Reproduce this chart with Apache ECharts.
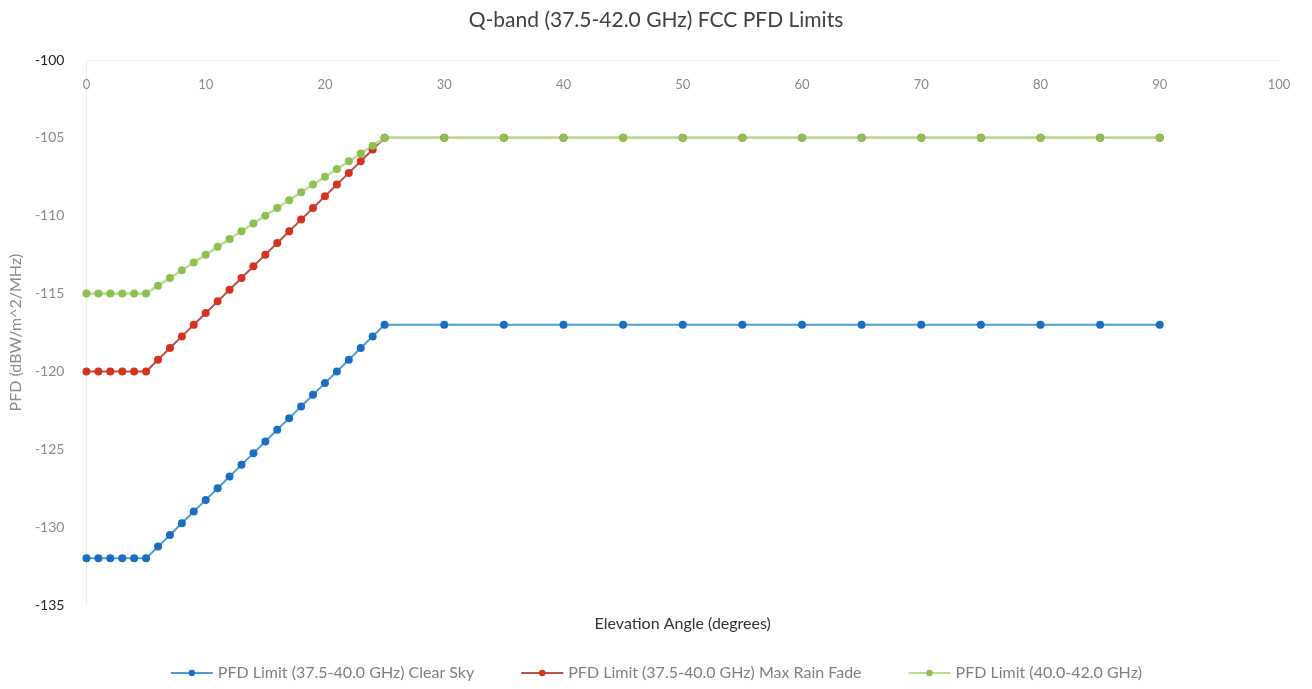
<!DOCTYPE html>
<html><head><meta charset="utf-8">
<script src="https://cdn.jsdelivr.net/npm/echarts@6/dist/echarts.min.js"></script>
<style>html,body{margin:0;padding:0;background:#fff}#c{width:1312px;height:689px}</style>
</head><body><div id="c"></div>
<script>
const elevation = [0,1,2,3,4,5,6,7,8,9,10,11,12,13,14,15,16,17,18,19,20,21,22,23,24,25,30,35,40,45,50,55,60,65,70,75,80,85,90];
const clearSky = [-132,-132,-132,-132,-132,-132,-131.25,-130.5,-129.75,-129,-128.25,-127.5,-126.75,-126,-125.25,-124.5,-123.75,-123,-122.25,-121.5,-120.75,-120,-119.25,-118.5,-117.75,-117,-117,-117,-117,-117,-117,-117,-117,-117,-117,-117,-117,-117,-117];
const maxRainFade = [-120,-120,-120,-120,-120,-120,-119.25,-118.5,-117.75,-117,-116.25,-115.5,-114.75,-114,-113.25,-112.5,-111.75,-111,-110.25,-109.5,-108.75,-108,-107.25,-106.5,-105.75,-105,-105,-105,-105,-105,-105,-105,-105,-105,-105,-105,-105,-105,-105];
const band40to42 = [-115,-115,-115,-115,-115,-115,-114.5,-114,-113.5,-113,-112.5,-112,-111.5,-111,-110.5,-110,-109.5,-109,-108.5,-108,-107.5,-107,-106.5,-106,-105.5,-105,-105,-105,-105,-105,-105,-105,-105,-105,-105,-105,-105,-105,-105];
const seriesNames = ['PFD Limit (37.5-40.0 GHz) Clear Sky','PFD Limit (37.5-40.0 GHz) Max Rain Fade','PFD Limit (40.0-42.0 GHz)'];
const titleText = 'Q-band (37.5-42.0 GHz) FCC PFD Limits';
const xName = 'Elevation Angle (degrees)';
const yName = 'PFD (dBW/m^2/MHz)';

const pairs = arr => elevation.map((x,i)=>[x,arr[i]]);
const FONT = 'Lato, "Open Sans", sans-serif';
const chart = echarts.init(document.getElementById('c'));
chart.setOption({
  animation:false,
  backgroundColor:'#fff',
  title:{text:titleText,left:'center',top:5,textStyle:{fontFamily:FONT,fontSize:21,fontWeight:'normal',color:'#404040'}},
  grid:{left:86,right:33,top:60,bottom:84},
  legend:{bottom:3,left:'center',itemGap:46,itemWidth:42,itemHeight:8,
    textStyle:{fontFamily:FONT,fontSize:16,color:'#7f7f7f'},data:seriesNames},
  xAxis:{type:'value',min:0,max:100,interval:10,position:'top',
    name:xName,nameLocation:'middle',nameGap:-572,
    nameTextStyle:{fontFamily:FONT,fontSize:16,color:'#333'},
    axisLine:{show:true,lineStyle:{color:'#f0f0f0'}},axisTick:{show:false},
    axisLabel:{inside:true,margin:18,fontFamily:FONT,fontSize:13,color:'#8a8a8a'},
    splitLine:{show:false}},
  yAxis:{type:'value',min:-135,max:-100,interval:5,
    name:yName,nameLocation:'middle',nameGap:62,nameRotate:90,
    nameTextStyle:{fontFamily:FONT,fontSize:16,color:'#8a8a8a'},
    axisLine:{show:true,lineStyle:{color:'#ececec'}},axisTick:{show:false},
    axisLabel:{margin:22,fontFamily:FONT,fontSize:14,
      formatter:v=> (v===-100||v===-135)?'{d|'+v+'}':'{g|'+v+'}',
      rich:{d:{color:'#222',fontFamily:FONT,fontSize:14},g:{color:'#8a8a8a',fontFamily:FONT,fontSize:14}}},
    splitLine:{show:false}},
  series:[
    {name:seriesNames[0],type:'line',data:pairs(clearSky),symbol:'circle',symbolSize:8,
      itemStyle:{color:'#1a6ec2'},lineStyle:{color:'#46a0dc',width:2}},
    {name:seriesNames[1],type:'line',data:pairs(maxRainFade),symbol:'circle',symbolSize:8,
      itemStyle:{color:'#d5321f'},lineStyle:{color:'#c0504d',width:2}},
    {name:seriesNames[2],type:'line',data:pairs(band40to42),symbol:'circle',symbolSize:8,
      itemStyle:{color:'#8cc152'},lineStyle:{color:'#bddc93',width:2.5}}
  ]
});
</script></body></html>
